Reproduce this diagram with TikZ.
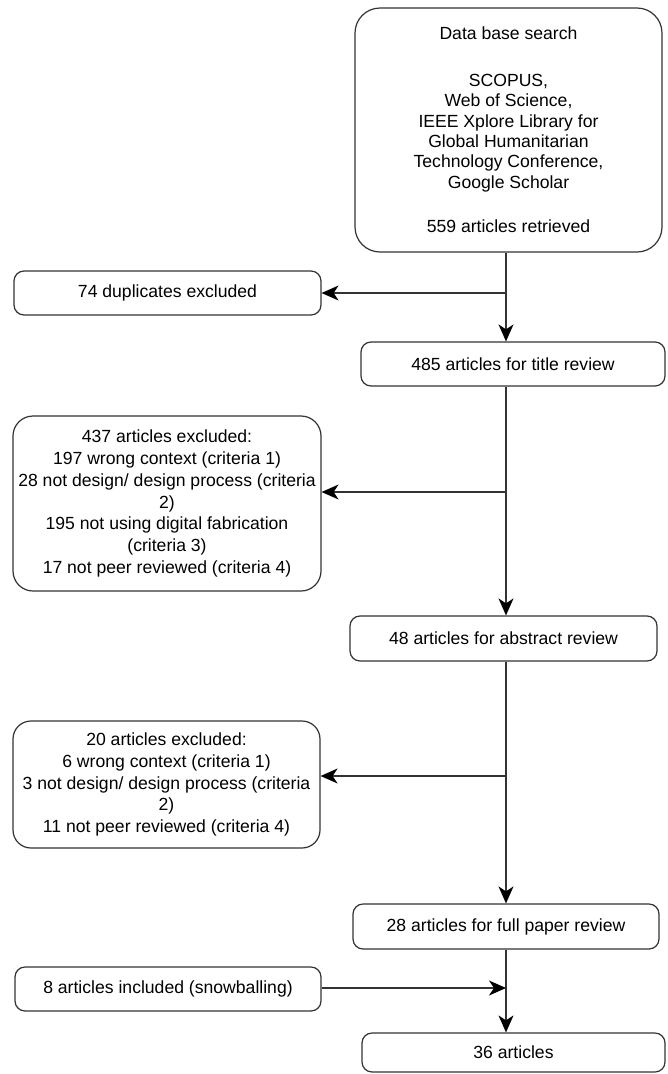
\documentclass[tikz,border=0pt]{standalone}
\usepackage{fontspec}
\setmainfont{Liberation Sans}
\usetikzlibrary{arrows.meta}
\definecolor{edge}{HTML}{333333}
\tikzset{
  box/.style={draw=edge, line width=1.2pt, fill=white, align=center, inner sep=0pt,
    font=\fontsize{17.6}{21.7}\selectfont, text=black},
  arr/.style={draw=edge, line width=1.2pt, -{Stealth[length=17pt,width=15pt,inset=5pt,color=black]}},
  ln/.style={draw=edge, line width=1.2pt}
}
\begin{document}
\begin{tikzpicture}[x=1pt,y=-1pt]
\useasboundingbox[fill=white] (0,0) rectangle (668,1074);
% nodes
\node[box, rounded corners=25pt, minimum width=307pt, minimum height=244pt,
  font=\fontsize{17.6}{20.4}\selectfont] (top) at (508.5,130)
  {Data base search\\[26pt]SCOPUS,\\Web of Science,\\IEEE Xplore Library for\\Global Humanitarian\\Technology Conference,\\Google Scholar\\[24pt]559 articles retrieved};
\node[box, rounded corners=10pt, minimum width=307pt, minimum height=44pt] (dup) at (167.5,293) {74 duplicates excluded};
\node[box, rounded corners=10pt, minimum width=304pt, minimum height=44pt] (title) at (513,364) {485 articles for title review};
\node[box, rounded corners=20pt, minimum width=308pt, minimum height=175pt] (ex1) at (167,503.5)
  {437 articles excluded:\\197 wrong context (criteria 1)\\28 not design/ design process (criteria\\2)\\195 not using digital fabrication\\(criteria 3)\\17 not peer reviewed (criteria 4)};
\node[box, rounded corners=10pt, minimum width=307pt, minimum height=45pt] (abs) at (503.5,638.5) {48 articles for abstract review};
\node[box, rounded corners=18pt, minimum width=307pt, minimum height=127pt] (ex2) at (166.5,784.5)
  {20 articles excluded:\\6 wrong context (criteria 1)\\3 not design/ design process (criteria\\2)\\11 not peer reviewed (criteria 4)};
\node[box, rounded corners=10pt, minimum width=306pt, minimum height=45pt] (full) at (506,926.5) {28 articles for full paper review};
\node[box, rounded corners=10pt, minimum width=306pt, minimum height=44pt] (snow) at (168,989) {8 articles included (snowballing)};
\node[box, rounded corners=10pt, minimum width=303pt, minimum height=39pt] (final) at (513.5,1052.5) {36 articles};
% branch points on the spine
\coordinate (b1) at (506,293);
\coordinate (b2) at (506,492);
\coordinate (b3) at (506,776);
\coordinate (b4) at (506,988);
% connectors
\draw[arr] (top.south -| b1) -- (title.north -| b1);
\draw[arr] (b1) -- (dup.east |- b1);
\draw[arr] (title.south -| b2) -- (abs.north -| b2);
\draw[arr] (b2) -- (ex1.east |- b2);
\draw[arr] (abs.south -| b3) -- (full.north -| b3);
\draw[arr] (b3) -- (ex2.east |- b3);
\draw[arr] (full.south -| b4) -- (final.north -| b4);
\draw[arr] (snow.east |- b4) -- (b4);
\end{tikzpicture}
\end{document}
